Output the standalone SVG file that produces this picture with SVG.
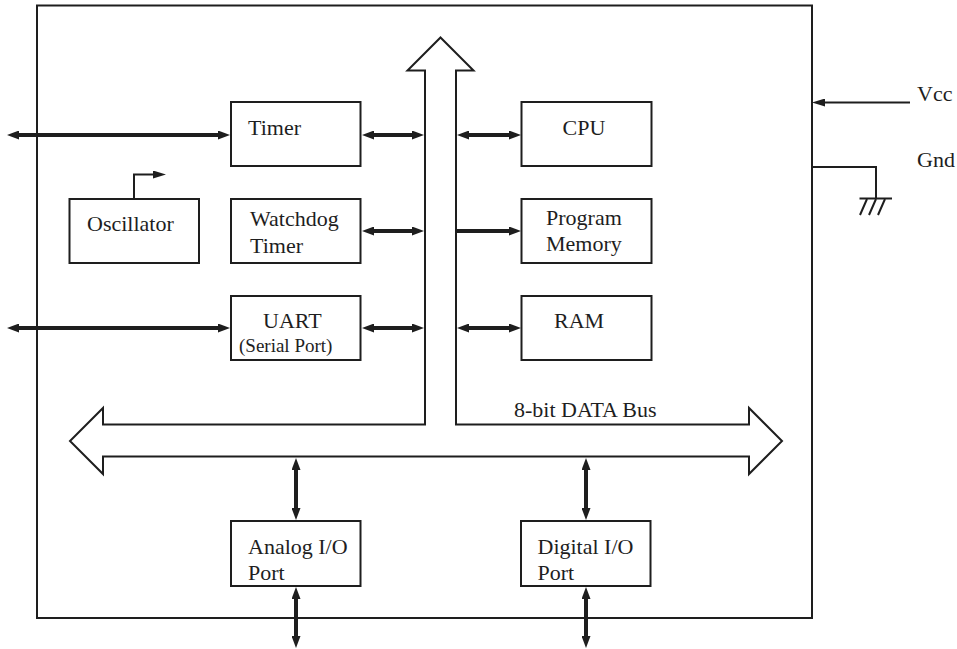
<svg xmlns="http://www.w3.org/2000/svg" width="957" height="649" viewBox="0 0 957 649">
<style>
  .box{fill:#fff;stroke:#1e1e1e;stroke-width:2}
  .t{font-family:"Liberation Serif","Times New Roman",serif;font-size:22px;fill:#1e1e1e}
  .s{font-size:19px}
  .thick{stroke:#1e1e1e;stroke-width:4;fill:none}
  .thin{stroke:#1e1e1e;stroke-width:2;fill:none}
</style>
<defs>
  <marker id="ah" markerUnits="userSpaceOnUse" markerWidth="12" markerHeight="9" refX="4" refY="4.5" orient="auto-start-reverse" viewBox="0 0 12 9">
    <path d="M0,0 L12,4.5 L0,9 z" fill="#1e1e1e"/>
  </marker>
  <marker id="ahs" markerUnits="userSpaceOnUse" markerWidth="13" markerHeight="8" refX="6" refY="4" orient="auto-start-reverse" viewBox="0 0 13 8">
    <path d="M0,0 L13,4 L0,8 z" fill="#1e1e1e"/>
  </marker>
</defs>
<rect width="957" height="649" fill="#fff"/>

<g id="chip">
  <rect x="37" y="5.5" width="775" height="612.5" fill="none" stroke="#1e1e1e" stroke-width="2"/>
</g>

<g id="bus">
  <path d="M440.5,37.5 L473.5,70.5 L456,70.5 L456,424.5 L749,424.5 L749,408 L782,441 L749,474 L749,456.5 L103,456.5 L103,474 L70,441 L103,408 L103,424.5 L425,424.5 L425,70.5 L407.5,70.5 Z" fill="#fff" stroke="#1e1e1e" stroke-width="2" stroke-linejoin="miter"/>
  <text class="t" x="514" y="417">8-bit DATA Bus</text>
</g>

<g id="timer">
  <rect class="box" x="231" y="102" width="129.5" height="64"/>
  <text class="t" x="248" y="135">Timer</text>
</g>
<g id="watchdog">
  <rect class="box" x="231" y="199" width="129.5" height="64"/>
  <text class="t" x="250" y="226">Watchdog</text>
  <text class="t" x="250" y="252.5">Timer</text>
</g>
<g id="uart">
  <rect class="box" x="231" y="296" width="129.5" height="64"/>
  <text class="t" x="263" y="328">UART</text>
  <text class="t s" x="239" y="352">(Serial Port)</text>
</g>
<g id="oscillator">
  <rect class="box" x="69.5" y="199" width="129.5" height="64"/>
  <text class="t" x="87" y="231">Oscillator</text>
</g>
<g id="cpu">
  <rect class="box" x="521.5" y="102" width="130" height="64"/>
  <text class="t" x="562.5" y="135">CPU</text>
</g>
<g id="program-memory">
  <rect class="box" x="521.5" y="199" width="130" height="64"/>
  <text class="t" x="546" y="225">Program</text>
  <text class="t" x="546" y="251">Memory</text>
</g>
<g id="ram">
  <rect class="box" x="521.5" y="296" width="130" height="64"/>
  <text class="t" x="554" y="328">RAM</text>
</g>
<g id="analog-io">
  <rect class="box" x="231" y="521" width="129.5" height="65"/>
  <text class="t" x="248" y="554">Analog I/O</text>
  <text class="t" x="248" y="580">Port</text>
</g>
<g id="digital-io">
  <rect class="box" x="521" y="521" width="129.5" height="65"/>
  <text class="t" x="537.5" y="554">Digital I/O</text>
  <text class="t" x="537.5" y="580">Port</text>
</g>
<g id="power">
  <text class="t" x="917" y="101">Vcc</text>
  <text class="t" x="917" y="167">Gnd</text>
  <path class="thin" d="M812,167 H876 V198.5"/>
  <path class="thin" d="M859.5,198.5 H892"/>
  <path class="thin" d="M867,199 L860,215 M876,199 L869,215 M885,199 L878,215"/>
</g>

<g id="connectors">
  <line class="thick" x1="15" y1="135" x2="222" y2="135" marker-start="url(#ah)" marker-end="url(#ah)"/>
  <line class="thick" x1="370" y1="135" x2="416" y2="135" marker-start="url(#ah)" marker-end="url(#ah)"/>
  <line class="thick" x1="465" y1="135" x2="513" y2="135" marker-start="url(#ah)" marker-end="url(#ah)"/>
  <line class="thick" x1="370" y1="231" x2="416" y2="231" marker-start="url(#ah)" marker-end="url(#ah)"/>
  <line class="thick" x1="456" y1="231" x2="513" y2="231" marker-end="url(#ah)"/>
  <line class="thick" x1="15" y1="328" x2="222" y2="328" marker-start="url(#ah)" marker-end="url(#ah)"/>
  <line class="thick" x1="370" y1="328" x2="416" y2="328" marker-start="url(#ah)" marker-end="url(#ah)"/>
  <line class="thick" x1="465" y1="328" x2="513" y2="328" marker-start="url(#ah)" marker-end="url(#ah)"/>
  <line class="thick" x1="296" y1="466" x2="296" y2="512" marker-start="url(#ah)" marker-end="url(#ah)"/>
  <line class="thick" x1="296" y1="595" x2="296" y2="640" marker-start="url(#ah)" marker-end="url(#ah)"/>
  <line class="thick" x1="586" y1="466" x2="586" y2="512" marker-start="url(#ah)" marker-end="url(#ah)"/>
  <line class="thick" x1="586" y1="595" x2="586" y2="640" marker-start="url(#ah)" marker-end="url(#ah)"/>
  <path class="thin" d="M134,199 V174.5 H159" marker-end="url(#ahs)"/>
  <line class="thin" x1="910" y1="102.5" x2="819" y2="102.5" marker-end="url(#ahs)"/>
</g>
</svg>
